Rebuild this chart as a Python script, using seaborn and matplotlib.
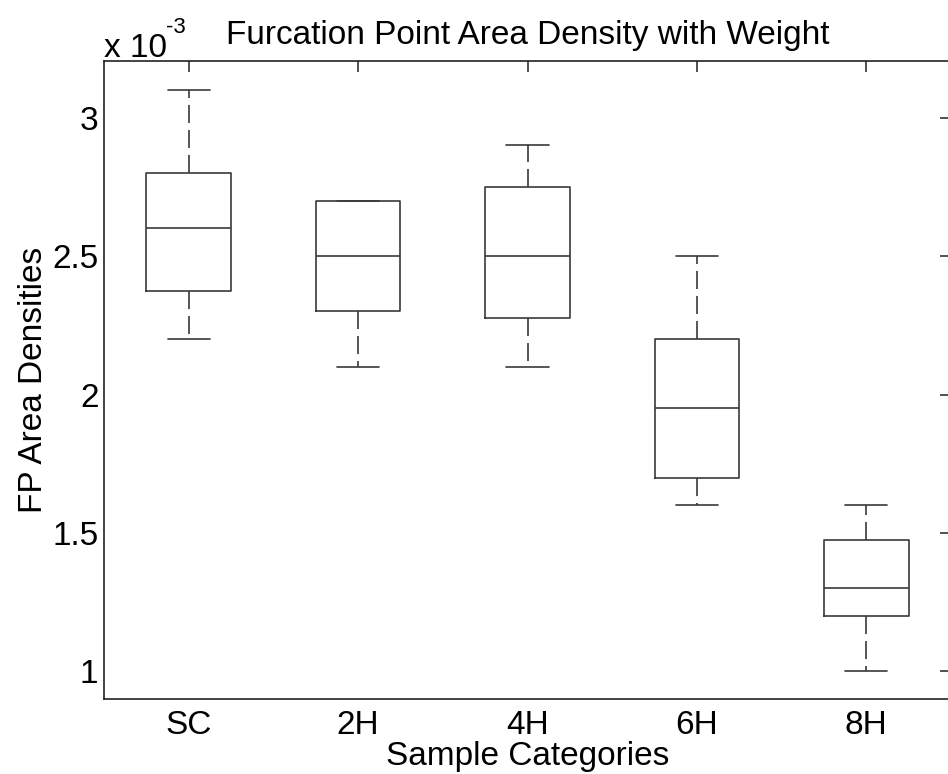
import matplotlib
matplotlib.use("Agg")
import matplotlib.pyplot as plt
import seaborn as sns
import pandas as pd

# Per-category samples (FP area density, in units of 1e-3)
categories = ["SC", "2H", "4H", "6H", "8H"]
sc_vals = [2.2, 2.375, 2.6, 2.8, 3.1]
h2_vals = [2.1, 2.3, 2.5, 2.7, 2.7]
h4_vals = [2.1, 2.275, 2.5, 2.75, 2.9]
h6_vals = [1.6, 1.7, 1.95, 2.2, 2.5]
h8_vals = [1.0, 1.2, 1.3, 1.475, 1.6]
y_ticks = [1, 1.5, 2, 2.5, 3]
y_tick_labels = ["1", "1.5", "2", "2.5", "3"]

rows = []
for cat, vals in zip(categories, [sc_vals, h2_vals, h4_vals, h6_vals, h8_vals]):
    for v in vals:
        rows.append({"category": cat, "density": v})
df = pd.DataFrame(rows)

sns.set_style("white")
plt.rcParams["font.family"] = ["Liberation Sans", "DejaVu Sans"]
plt.rcParams["lines.scale_dashes"] = False
plt.rcParams["text.color"] = "black"
plt.rcParams["axes.labelcolor"] = "black"

line_col = "#3a3a3a"
lw = 1.2
fs = 24

fig = plt.figure(figsize=(9.48, 7.74), dpi=100)
ax = fig.add_axes([104 / 948, 1 - 699 / 774, (951 - 104) / 948, (699 - 61) / 774])

sns.boxplot(
    data=df, x="category", y="density", order=categories,
    whis=(0, 100), width=0.5, fill=False, color=line_col, linewidth=lw,
    whiskerprops={"linestyle": (0, (13, 5)), "color": line_col},
    boxprops={"color": line_col}, medianprops={"color": line_col},
    capprops={"color": line_col},
    ax=ax,
)

ax.set_xlim(-0.5, 4.5)
ax.set_ylim(0.9, 3.205)
ax.set_yticks(y_ticks)
ax.set_yticklabels(y_tick_labels)
ax.set_xticks(range(len(categories)))
ax.set_xticklabels(categories)

for s in ax.spines.values():
    s.set_visible(True)
    s.set_color("#222222")
    s.set_linewidth(1.2)

ax.tick_params(axis="both", which="both", direction="in", length=8, width=1.2,
               color="#333333", labelsize=fs, labelcolor="black",
               top=True, right=True)
ax.tick_params(axis="y", pad=4)
ax.tick_params(axis="x", pad=8)

ax.set_xlabel("Sample Categories", fontsize=fs, labelpad=0)
ax.set_ylabel("FP Area Densities", fontsize=fs, labelpad=2)
ax.set_title("Furcation Point Area Density with Weight", fontsize=fs, pad=12,
             color="black")

# Exponent label for the y axis
ax.text(0.0, 1.006, "x 10", transform=ax.transAxes, fontsize=fs,
        ha="left", va="baseline")
ax.text(0.073, 1.044, "-3", transform=ax.transAxes, fontsize=16,
        ha="left", va="baseline")

fig.savefig("out.png", dpi=100)
